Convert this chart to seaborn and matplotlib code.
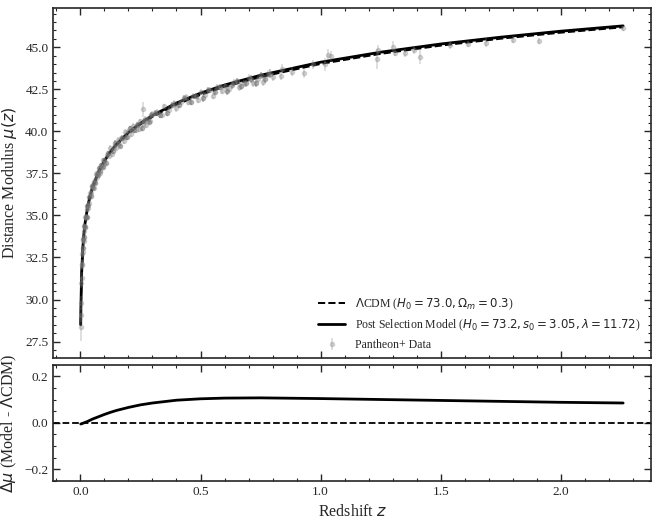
import numpy as np
import matplotlib
matplotlib.use('Agg')
import matplotlib.pyplot as plt
import seaborn as sns
from matplotlib.ticker import MultipleLocator

# model curves
z_curve = [0.00122, 0.002, 0.005, 0.01, 0.015, 0.02, 0.03, 0.04, 0.05, 0.075, 0.1, 0.125, 0.15,
           0.2, 0.25, 0.3, 0.4, 0.5, 0.6, 0.75, 1.0, 1.25, 1.5, 1.75, 2.0, 2.26]
mu_lcdm = [28.50, 29.58, 31.57, 33.09, 33.99, 34.61, 35.50, 36.14, 36.64, 37.56, 38.22, 38.75, 39.18,
           39.87, 40.41, 40.86, 41.59, 42.17, 42.65, 43.23, 44.01, 44.61, 45.10, 45.51, 45.87, 46.19]
dmu = [-0.005, -0.005, -0.004, -0.002, 0.000, 0.002, 0.006, 0.011, 0.016, 0.026, 0.036, 0.045, 0.053,
       0.066, 0.077, 0.085, 0.097, 0.103, 0.106, 0.107, 0.104, 0.100, 0.096, 0.092, 0.088, 0.085]

# Pantheon+ points (approximate)
z_data = [0.00122, 0.0015, 0.0023, 0.0035, 0.0045, 0.0056, 0.0068, 0.0082, 0.0095, 0.011, 0.013,
          0.0155, 0.018, 0.021, 0.024, 0.027, 0.03,
          0.035, 0.04, 0.045, 0.05, 0.055, 0.06, 0.065, 0.07, 0.075, 0.08, 0.085, 0.09, 0.095, 0.1,
          0.11, 0.12, 0.125, 0.13, 0.14, 0.15, 0.155, 0.16, 0.17, 0.18, 0.185, 0.19, 0.2, 0.21,
          0.215, 0.22, 0.23, 0.24, 0.245, 0.25, 0.26, 0.26, 0.27, 0.275, 0.28, 0.29, 0.3,
          0.32, 0.34, 0.35, 0.37, 0.39, 0.4, 0.42, 0.44, 0.45, 0.47, 0.49, 0.5, 0.52, 0.54, 0.55,
          0.57, 0.59, 0.6,
          0.62, 0.64, 0.66, 0.68, 0.7, 0.72, 0.74, 0.76, 0.78, 0.8, 0.836, 0.84, 0.88, 0.93, 0.97,
          1.017, 1.03, 1.045, 1.235, 1.24, 1.30, 1.31, 1.35, 1.39, 1.415, 1.54, 1.614, 1.69, 1.80,
          1.91, 2.26]
mu_data = [28.35, 29.10, 29.78, 31.01, 31.29, 32.11, 32.06, 32.73, 32.85, 33.54, 33.46,
           34.10, 34.29, 34.89, 34.86, 35.37, 35.44,
           35.73, 36.34, 36.36, 36.78, 36.64, 37.12, 37.49, 37.31, 37.59, 37.54, 37.97, 37.90, 38.29, 38.08,
           38.60, 38.55, 39.03, 38.66, 39.09, 39.04, 39.47, 39.27, 39.59, 39.41, 39.98, 39.65, 40.03, 39.83,
           40.09, 40.34, 40.09, 40.41, 40.14, 40.59, 40.46, 41.32, 40.74, 40.40, 40.76, 40.62, 41.06,
           41.14, 40.99, 41.49, 41.30, 41.67, 41.37, 41.76, 42.03, 41.75, 42.10, 41.86, 42.35, 42.17, 42.44, 42.11,
           42.65, 42.40, 42.68,
           42.54, 42.92, 42.62, 42.85, 43.20, 42.87, 43.14, 42.96, 43.41, 43.25, 43.29, 43.73, 43.56, 43.46, 43.98,
           43.98, 44.57, 44.47, 44.31, 44.86, 45.00, 44.67, 44.67, 44.82, 44.43, 45.12, 45.20, 45.28, 45.45,
           45.38, 46.14]
err_data = [0.80, 0.45, 0.40, 0.35, 0.32, 0.30, 0.28, 0.25, 0.24, 0.22, 0.20,
            0.19, 0.18, 0.17, 0.16, 0.16, 0.15,
            0.15, 0.15, 0.14, 0.14, 0.14, 0.13, 0.13, 0.13, 0.13, 0.13, 0.13, 0.13, 0.13, 0.13,
            0.14, 0.15, 0.14, 0.16, 0.14, 0.15, 0.17, 0.14, 0.15, 0.16, 0.14, 0.15, 0.14, 0.16,
            0.15, 0.14, 0.16, 0.15, 0.17, 0.15, 0.16, 0.45, 0.15, 0.17, 0.16, 0.15, 0.16,
            0.17, 0.18, 0.16, 0.18, 0.17, 0.19, 0.18, 0.17, 0.19, 0.18, 0.20, 0.18, 0.19, 0.18, 0.20,
            0.19, 0.20, 0.19,
            0.22, 0.20, 0.24, 0.22, 0.21, 0.25, 0.22, 0.26, 0.23, 0.24, 0.25, 0.26, 0.25, 0.28, 0.27,
            0.40, 0.30, 0.30, 0.60, 0.30, 0.35, 0.20, 0.25, 0.20, 0.40, 0.20, 0.20, 0.25, 0.20,
            0.20, 0.15]

# more of the crowded band at low/intermediate redshift
z_band = [0.0105, 0.012, 0.014, 0.0165, 0.019, 0.0225, 0.0255, 0.0285, 0.0325, 0.0375, 0.0425,
          0.0475, 0.0525, 0.0575, 0.0625, 0.0675, 0.0725, 0.0775, 0.0825, 0.0875, 0.0925, 0.0975,
          0.105, 0.115, 0.135, 0.145, 0.165, 0.175, 0.195, 0.205, 0.225, 0.235, 0.255, 0.265, 0.285, 0.295,
          0.31, 0.33, 0.36, 0.38, 0.41, 0.43, 0.46, 0.48, 0.51, 0.53, 0.56, 0.58, 0.61, 0.63, 0.65,
          0.67, 0.69, 0.71, 0.73, 0.75, 0.77, 0.79]
mu_band = [33.04, 33.60, 33.74, 34.38, 34.31, 34.93, 34.92, 35.55, 35.63, 36.10, 36.14,
           36.77, 36.66, 37.00, 36.95, 37.46, 37.43, 37.82, 37.66, 38.00, 37.89, 38.28,
           38.14, 38.71, 38.81, 39.32, 39.15, 39.63, 39.64, 40.19, 40.07, 40.39, 40.18, 40.62, 40.56, 40.97,
           41.12, 40.98, 41.11, 41.55, 41.59, 41.99, 41.77, 42.11, 41.96, 42.47, 42.36, 42.64, 42.40, 42.73, 42.98,
           42.72, 42.86, 43.13, 42.88, 43.33, 43.12, 43.43]
err_band = [0.20, 0.19, 0.18, 0.17, 0.16, 0.15, 0.15, 0.15, 0.14, 0.14, 0.14,
            0.13, 0.13, 0.13, 0.13, 0.13, 0.13, 0.12, 0.12, 0.12, 0.12, 0.12,
            0.13, 0.15, 0.14, 0.16, 0.15, 0.14, 0.17, 0.15, 0.14, 0.16, 0.15, 0.17, 0.15, 0.16,
            0.18, 0.17, 0.19, 0.18, 0.20, 0.18, 0.19, 0.20, 0.21, 0.19, 0.22, 0.20, 0.23, 0.21, 0.22,
            0.24, 0.22, 0.23, 0.25, 0.22, 0.24, 0.25]

mu_model = [a + b for a, b in zip(mu_lcdm, dmu)]

sns.set_style('ticks')
plt.rcParams['font.family'] = ['Liberation Serif', 'DejaVu Serif']
plt.rcParams['mathtext.fontset'] = 'dejavusans'

fig, (ax1, ax2) = plt.subplots(2, 1, figsize=(6.58, 5.19), dpi=100, sharex=True,
                               gridspec_kw={'height_ratios': [3, 1], 'hspace': 0.03})
fig.subplots_adjust(left=0.081, right=0.989, top=0.985, bottom=0.073)

sns.lineplot(x=z_curve, y=mu_lcdm, ax=ax1, color='k', linestyle='--', lw=1.4,
             label=r'$\Lambda$CDM ($H_0 = 73.0, \Omega_m = 0.3$)')
sns.lineplot(x=z_curve, y=mu_model, ax=ax1, color='k', lw=2.0,
             label=r'Post Selection Model ($H_0 = 73.2, s_0 = 3.05, \lambda = 11.72$)')
ax1.errorbar(z_band, mu_band, yerr=err_band, fmt='o', color='dimgray', ms=3, elinewidth=1.2,
             alpha=0.45)
ax1.errorbar(z_data, mu_data, yerr=err_data, fmt='o', color='gray', ms=3, elinewidth=1.2,
             alpha=0.3, label='Pantheon+ Data')

ax1.set_ylabel(r'Distance Modulus $\mu(z)$', fontsize=11.5)
ax1.set_ylim(26.55, 47.35)
ax1.yaxis.set_major_locator(MultipleLocator(2.5))
ax1.yaxis.set_minor_locator(MultipleLocator(0.5))
ax1.legend(loc='lower right', bbox_to_anchor=(1.0, -0.012), frameon=False, fontsize=8.5,
           handlelength=2.3)

sns.lineplot(x=z_curve, y=dmu, ax=ax2, color='k', lw=2.0)
ax2.axhline(0, color='k', linestyle='--', lw=1.3)
ax2.set_ylim(-0.25, 0.25)
ax2.yaxis.set_major_locator(MultipleLocator(0.2))
ax2.yaxis.set_minor_locator(MultipleLocator(0.05))
ax2.set_ylabel(r'$\Delta\mu$ (Model - $\Lambda$CDM)', fontsize=11.5)
ax2.set_xlabel(r'Redshift $z$', fontsize=11.5)
ax2.set_xlim(-0.113, 2.375)
ax2.xaxis.set_major_locator(MultipleLocator(0.5))
ax2.xaxis.set_minor_locator(MultipleLocator(0.1))

for ax in (ax1, ax2):
    ax.tick_params(which='both', direction='in', top=True, right=True, labelsize=9.5)
    ax.tick_params(which='major', length=5, width=1)
    ax.tick_params(which='minor', length=2.5, width=0.8)
    for s in ax.spines.values():
        s.set_linewidth(1.2)

fig.align_ylabels([ax1, ax2])
plt.savefig('out.png', dpi=100)
